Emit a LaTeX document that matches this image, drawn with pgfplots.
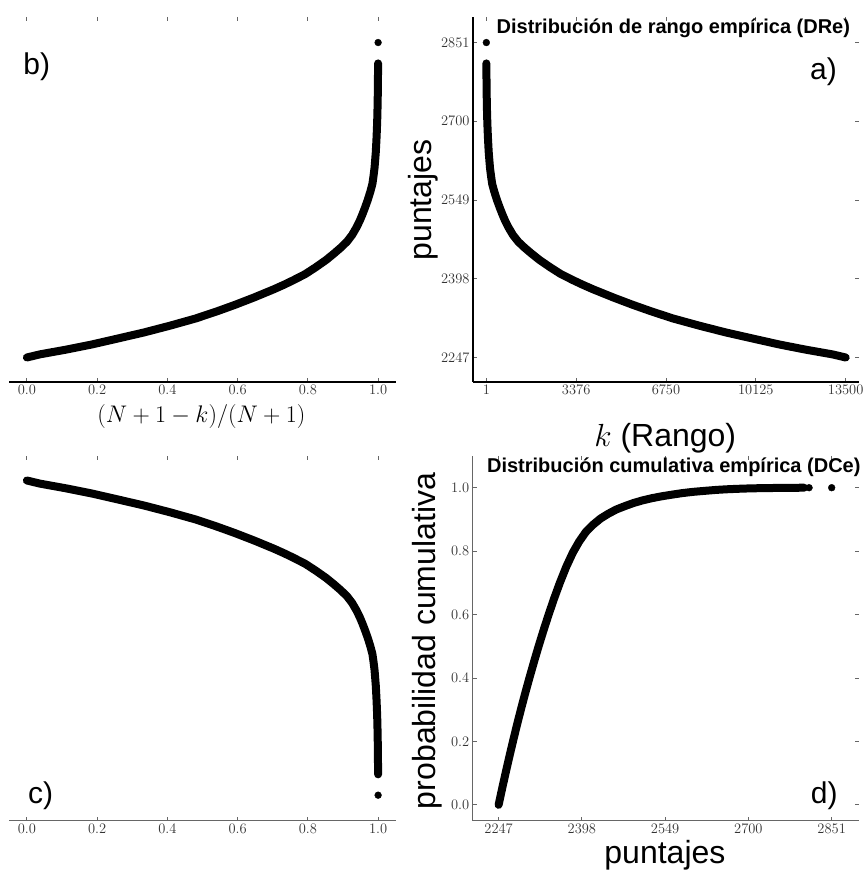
\RequirePackage{fix-cm}
\documentclass[border=0pt]{standalone}
\usepackage{fontspec}
\setmainfont{Liberation Sans}
\usepackage{pgfplots}
\usepackage{pgfplotstable}
\pgfplotsset{compat=1.18}

% rank data: k (rank) and score (puntaje), panels a), b), c)
\pgfplotstableread{
k s
2 2811
3 2804
4 2797
6 2786
8 2776
11 2762
15 2748
20 2735
25 2722
32 2708
40 2695
50 2682
60 2670
75 2655
90 2641
115 2625
140 2610
180 2594
220 2580
300 2565
400 2549
500 2535
600 2522
700 2510
826 2497
1000 2482
1200 2469
1450 2457
1705 2446
2000 2434
2400 2420
2800 2407
3268 2395
3600 2387
4000 2378
4775 2362
5500 2348
6166 2336
7000 2322
8000 2308
9000 2295
10125 2282
11000 2272
12000 2262
13000 2253
13500 2247
}\rankdata

% cumulative data: score s and cumulative probability p, panel d)
\pgfplotstableread{
s p
2247 0.0
2253.2 0.05
2259.6 0.1
2266.2 0.15
2273 0.2
2280 0.25
2287.3 0.3
2294.9 0.35
2302.8 0.4
2311 0.45
2319.5 0.5
2328.4 0.55
2337.7 0.6
2347.5 0.65
2358 0.7
2369.5 0.75
2381.5 0.795
2393 0.83
2405 0.86
2418 0.883
2432 0.903
2446 0.918
2460 0.931
2476 0.942
2492 0.952
2508 0.96
2525 0.967
2543 0.973
2561 0.978
2580 0.983
2600 0.987
2620 0.990
2641 0.993
2660 0.995
2680 0.9965
2700 0.9977
2720 0.9985
2740 0.999
2760 0.9994
2780 0.9997
2801 1.0
}\cumdata

\pgfplotsset{
  panel/.style={
    scale only axis, anchor=south west,
    axis line style={draw=none},
    tick align=inside, major tick length=4pt,
    tick style={black!60, line width=0.8pt},
    tick label style={font=\fontsize{14.5}{16}\selectfont, text=black!80},
    clip=false,
  },
  curve/.style={black, line width=8pt, line cap=round, line join=round, mark=none},
  dots/.style={only marks, mark=*, mark size=3.4pt, black},
  onedec/.style={/pgf/number format/.cd, fixed, fixed zerofill, precision=1, /tikz/.cd},
}

\begin{document}
\begin{tikzpicture}
\useasboundingbox (0pt,0pt) rectangle (865pt,870pt);

% ---------------- b) ----------------
\begin{axis}[panel, at={(9.3pt,488pt)}, width=386.4pt, height=365pt,
  xmin=-0.05, xmax=1.05, ymin=2200, ymax=2900,
  xtick={0,0.2,0.4,0.6,0.8,1.0}, ytick=\empty,
  x tick label style={onedec}]
\draw[black, line width=1.3pt] (rel axis cs:0,0) -- (rel axis cs:1,0);
\addplot[curve] table[x expr={(13501-\thisrow{k})/13501}, y=s] {\rankdata};
\addplot[dots] coordinates {(0.99993,2851)};
\node[anchor=base west, inner sep=0pt, font=\fontsize{30}{30}\selectfont] at (rel axis cs:0.036,0.8438) {b)};
\node[anchor=base, inner sep=0pt, font=\fontsize{24}{24}\selectfont] at (rel axis cs:0.497,-0.1115) {$(N+1-k)/(N+1)$};
\end{axis}

% ---------------- a) ----------------
\begin{axis}[panel, at={(473pt,488pt)}, width=386pt, height=365pt,
  xmin=-500, xmax=14000, ymin=2200, ymax=2900,
  xtick={1,3376,6750,10125,13500}, ytick={2247,2398,2549,2700,2851},
  scaled ticks=false,
  x tick label style={/pgf/number format/.cd, fixed, 1000 sep={}, /tikz/.cd},
  y tick label style={/pgf/number format/.cd, fixed, 1000 sep={}, /tikz/.cd}]
\draw[black, line width=1.3pt] (rel axis cs:0,0) -- (rel axis cs:1,0);
\draw[black, line width=1.3pt] (rel axis cs:0,0) -- (rel axis cs:0,1);
\addplot[curve] table[x=k, y=s] {\rankdata};
\addplot[dots] coordinates {(1,2851)};
\node[anchor=base, inner sep=0pt, font=\fontsize{20}{20}\selectfont\bfseries] at (rel axis cs:0.519,0.955) {Distribución de rango empírica (DRe)};
\node[anchor=base east, inner sep=0pt, font=\fontsize{30}{30}\selectfont] at (rel axis cs:0.943,0.830) {a)};
\node[anchor=base, inner sep=0pt, font=\fontsize{32}{32}\selectfont] at (rel axis cs:0.498,-0.178) {$k$ (Rango)};
\node[rotate=90, anchor=center, inner sep=0pt, font=\fontsize{32}{32}\selectfont] at (rel axis cs:-0.128,0.4986) {puntajes};
\end{axis}

% ---------------- c) ----------------
\begin{axis}[panel, at={(9.3pt,49.3pt)}, width=386.4pt, height=364.7pt,
  xmin=-0.05, xmax=1.05, ymin=2200, ymax=2900, y dir=reverse,
  xtick={0,0.2,0.4,0.6,0.8,1.0}, ytick=\empty,
  x tick label style={onedec}]
\draw[black!60, line width=1.3pt] (rel axis cs:0,0) -- (rel axis cs:1,0);
\addplot[curve] table[x expr={(13501-\thisrow{k})/13501}, y=s] {\rankdata};
\addplot[dots] coordinates {(0.99993,2851)};
\node[anchor=base west, inner sep=0pt, font=\fontsize{30}{30}\selectfont] at (rel axis cs:0.048,0.0485) {c)};
\end{axis}

% ---------------- d) ----------------
\begin{axis}[panel, at={(472.7pt,49.3pt)}, width=386pt, height=364.7pt,
  xmin=2200, xmax=2900, ymin=-0.05, ymax=1.1,
  xtick={2247,2398,2549,2700,2851}, ytick={0,0.2,0.4,0.6,0.8,1.0},
  scaled ticks=false,
  x tick label style={/pgf/number format/.cd, fixed, 1000 sep={}, /tikz/.cd},
  y tick label style={onedec}]
\draw[black!60, line width=1.3pt] (rel axis cs:0,0) -- (rel axis cs:1,0);
\draw[black!60, line width=1.3pt] (rel axis cs:0,0) -- (rel axis cs:0,1);
\addplot[curve] table[x=s, y=p] {\cumdata};
\addplot[dots] coordinates {(2810,1.0) (2851,1.0)};
\node[anchor=base, inner sep=0pt, font=\fontsize{20}{20}\selectfont\bfseries] at (rel axis cs:0.521,0.956) {Distribución cumulativa empírica (DCe)};
\node[anchor=base east, inner sep=0pt, font=\fontsize{30}{30}\selectfont] at (rel axis cs:0.946,0.0485) {d)};
\node[anchor=base, inner sep=0pt, font=\fontsize{32}{32}\selectfont] at (rel axis cs:0.498,-0.116) {puntajes};
\node[rotate=90, anchor=center, inner sep=0pt, font=\fontsize{32}{32}\selectfont] at (rel axis cs:-0.117,0.493) {probabilidad cumulativa};
\end{axis}
\end{tikzpicture}
\end{document}
